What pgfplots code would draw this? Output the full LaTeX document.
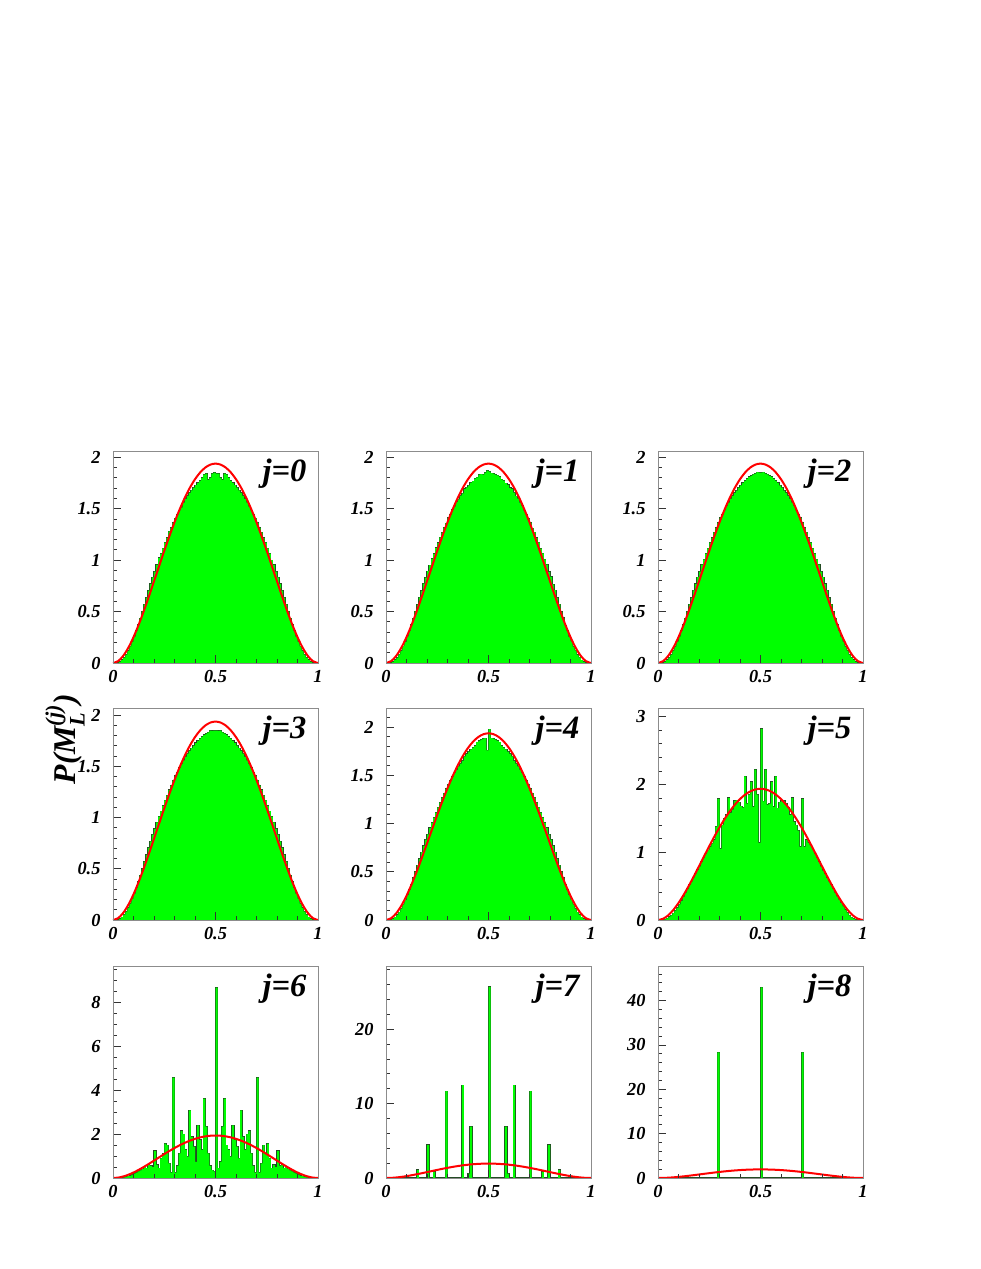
\documentclass[border=0pt]{standalone}
\usepackage{amsmath}
\usepackage{fontspec}
\setmainfont{Liberation Serif}
\usepackage{pgfplots}
\usepackage{pgfplotstable}
\pgfplotsset{compat=1.18}

\definecolor{histline}{RGB}{35,75,35}

% histograms, 100 bins on [0,1]; x = left edge of bin, last row closes the step
\pgfplotstableread{
x    j0    j1    j2    j3    j4    j5    j6    j7    j8
0.00 0     0     0     0     0     0     0     0     0
0.01 0     0     0     0     0     0     0     0     0
0.02 0.002 0.002 0.002 0.002 0.002 0.002 0     0     0
0.03 0.011 0.011 0.011 0.011 0.011 0.010 0     0     0
0.04 0.029 0.030 0.029 0.028 0.029 0.025 0     0     0
0.05 0.052 0.050 0.052 0.053 0.052 0.045 0.03  0     0
0.06 0.082 0.083 0.081 0.082 0.082 0.070 0.05  0     0
0.07 0.119 0.118 0.120 0.119 0.119 0.100 0.08  0     0
0.08 0.161 0.163 0.160 0.161 0.161 0.140 0.10  0     0
0.09 0.206 0.204 0.207 0.206 0.206 0.180 0.15  0     0
0.10 0.257 0.259 0.256 0.257 0.257 0.230 0.20  0     0
0.11 0.311 0.309 0.312 0.311 0.311 0.280 0.25  0     0
0.12 0.371 0.373 0.370 0.371 0.371 0.340 0.30  0     0
0.13 0.435 0.433 0.436 0.435 0.435 0.400 0.35  0     0
0.14 0.500 0.502 0.499 0.500 0.500 0.460 0.40  0     0
0.15 0.569 0.566 0.570 0.569 0.569 0.520 0.50  1.07  0
0.16 0.635 0.638 0.634 0.635 0.635 0.570 0.45  0     0
0.17 0.704 0.701 0.705 0.704 0.704 0.630 0.60  0     0
0.18 0.768 0.771 0.767 0.768 0.768 0.690 0.55  0     0
0.19 0.833 0.830 0.834 0.833 0.833 0.740 0.50  0     0
0.20 0.889 0.892 0.888 0.889 0.889 0.790 1.23  4.43  0
0.21 0.954 0.951 0.955 0.954 0.954 0.860 0.60  0     0
0.22 1.020 1.012 1.008 1.009 1.009 0.920 0.45  0     0
0.23 1.062 1.060 1.063 1.062 1.062 0.980 0.90  0.80  0
0.24 1.114 1.117 1.113 1.114 1.114 1.030 1.10  0     0
0.25 1.169 1.166 1.170 1.169 1.169 1.080 1.57  0     0
0.26 1.217 1.220 1.216 1.217 1.217 1.130 1.50  0     0
0.27 1.280 1.266 1.270 1.269 1.269 1.180 0.67  0     0
0.28 1.313 1.316 1.312 1.313 1.313 1.380 0.24  0     0
0.29 1.361 1.358 1.362 1.361 1.361 1.790 4.58  11.68 28.3
0.30 1.407 1.410 1.410 1.407 1.407 1.050 0.24  0     0
0.31 1.443 1.440 1.444 1.443 1.443 1.400 0.55  0     0
0.32 1.484 1.487 1.483 1.484 1.484 1.500 1.12  0     0
0.33 1.510 1.520 1.524 1.523 1.523 1.550 2.14  0     0
0.34 1.559 1.562 1.558 1.559 1.559 1.800 2.00  0     0
0.35 1.593 1.590 1.594 1.593 1.593 1.580 1.28  0     0
0.36 1.624 1.627 1.623 1.624 1.624 1.630 0.97  0     0
0.37 1.652 1.649 1.653 1.652 1.652 1.760 3.09  12.48 0
0.38 1.677 1.690 1.676 1.677 1.697 1.770 1.88  0     0
0.39 1.703 1.706 1.704 1.703 1.723 1.740 1.43  0     0
0.40 1.728 1.725 1.727 1.728 1.748 1.680 0.74  0.6   0
0.41 1.750 1.753 1.751 1.750 1.770 1.660 2.40  6.89  0
0.42 1.770 1.767 1.769 1.770 1.790 2.120 1.73  0     0
0.43 1.800 1.791 1.789 1.788 1.808 1.720 1.28  0     0
0.44 1.830 1.803 1.807 1.806 1.846 1.850 3.62  0     0
0.45 1.840 1.830 1.819 1.820 1.860 2.040 2.34  0     0
0.46 1.780 1.835 1.833 1.832 1.872 1.670 1.12  0     0
0.47 1.800 1.830 1.840 1.850 1.881 2.220 0.55  0     0
0.48 1.840 1.850 1.855 1.847 1.887 1.850 0.36  0     0
0.49 1.850 1.870 1.850 1.850 1.760 1.140 0.30  0     0
0.50 1.840 1.860 1.850 1.850 1.980 2.820 8.68  25.68 43.0
0.51 1.840 1.845 1.855 1.847 1.887 1.750 0.45  0     0
0.52 1.800 1.840 1.840 1.850 1.881 2.220 0.74  0     0
0.53 1.780 1.830 1.833 1.832 1.872 1.700 2.34  0     0
0.54 1.840 1.822 1.819 1.820 1.860 1.720 3.62  0     0
0.55 1.830 1.808 1.807 1.806 1.846 2.040 1.50  0     0
0.56 1.800 1.785 1.789 1.788 1.808 1.670 1.28  0     0
0.57 1.770 1.772 1.769 1.770 1.790 2.120 0.97  0     0
0.58 1.750 1.747 1.751 1.750 1.770 1.650 2.40  6.89  0
0.59 1.728 1.731 1.727 1.728 1.748 1.740 1.73  0.6   0
0.60 1.703 1.700 1.704 1.703 1.723 1.770 1.43  0     0
0.61 1.677 1.690 1.676 1.677 1.697 1.760 0.90  0     0
0.62 1.652 1.655 1.653 1.652 1.652 1.720 3.09  12.48 0
0.63 1.624 1.621 1.623 1.624 1.624 1.660 1.88  0     0
0.64 1.593 1.596 1.594 1.593 1.593 1.550 1.28  0     0
0.65 1.559 1.556 1.558 1.559 1.559 1.800 2.00  0     0
0.66 1.520 1.526 1.524 1.523 1.523 1.450 2.14  0     0
0.67 1.484 1.481 1.483 1.484 1.484 1.400 1.12  0     0
0.68 1.443 1.446 1.444 1.443 1.443 1.320 0.55  0     0
0.69 1.407 1.404 1.410 1.407 1.407 1.080 0.24  0     0
0.70 1.361 1.364 1.362 1.361 1.361 1.790 4.58  11.68 28.3
0.71 1.313 1.310 1.312 1.313 1.313 1.080 0.24  0     0
0.72 1.270 1.272 1.270 1.269 1.269 1.180 0.67  0     0
0.73 1.217 1.214 1.216 1.217 1.217 1.140 1.50  0     0
0.74 1.169 1.172 1.170 1.169 1.169 1.100 1.10  0     0
0.75 1.114 1.111 1.113 1.114 1.114 1.050 1.57  0     0
0.76 1.062 1.065 1.063 1.062 1.062 0.980 0.90  0.80  0
0.77 1.000 1.006 1.008 1.009 1.009 0.920 0.45  0     0
0.78 0.954 0.957 0.955 0.954 0.954 0.860 0.60  0     0
0.79 0.889 0.886 0.888 0.889 0.889 0.790 0.50  4.43  0
0.80 0.833 0.836 0.834 0.833 0.833 0.730 1.23  0     0
0.81 0.768 0.765 0.767 0.768 0.768 0.680 0.55  0     0
0.82 0.704 0.707 0.705 0.704 0.704 0.620 0.60  0     0
0.83 0.635 0.632 0.634 0.635 0.635 0.570 0.45  0     0
0.84 0.569 0.572 0.570 0.569 0.569 0.520 0.50  1.07  0
0.85 0.500 0.497 0.499 0.500 0.500 0.460 0.40  0     0
0.86 0.435 0.438 0.436 0.435 0.435 0.400 0.35  0     0
0.87 0.371 0.368 0.370 0.371 0.371 0.350 0.30  0     0
0.88 0.311 0.314 0.312 0.311 0.311 0.300 0.25  0     0
0.89 0.257 0.254 0.256 0.257 0.257 0.250 0.20  0     0
0.90 0.206 0.209 0.207 0.206 0.206 0.200 0.15  0     0
0.91 0.161 0.158 0.160 0.161 0.161 0.150 0.10  0     0
0.92 0.119 0.122 0.120 0.119 0.119 0.110 0.08  0     0
0.93 0.082 0.079 0.081 0.082 0.082 0.070 0.05  0     0
0.94 0.052 0.055 0.052 0.053 0.052 0.040 0.03  0     0
0.95 0.029 0.028 0.029 0.028 0.029 0.020 0     0     0
0.96 0.011 0.011 0.011 0.011 0.011 0.005 0     0     0
0.97 0.002 0.002 0.002 0.002 0.002 0     0     0     0
0.98 0     0     0     0     0     0     0     0     0
0.99 0     0     0     0     0     0     0     0     0
1.00 0     0     0     0     0     0     0     0     0
}\histdata

% red reference curve
\pgfplotstableread{
x     y
0.000 0
0.025 0.0184
0.050 0.0699
0.075 0.1492
0.100 0.2511
0.125 0.3709
0.150 0.5039
0.175 0.6462
0.200 0.7936
0.225 0.9426
0.250 1.0898
0.275 1.2323
0.300 1.3671
0.325 1.4919
0.350 1.6044
0.375 1.7029
0.400 1.7856
0.425 1.8513
0.450 1.8989
0.475 1.9278
0.500 1.9375
0.525 1.9278
0.550 1.8989
0.575 1.8513
0.600 1.7856
0.625 1.7029
0.650 1.6044
0.675 1.4919
0.700 1.3671
0.725 1.2323
0.750 1.0898
0.775 0.9426
0.800 0.7936
0.825 0.6462
0.850 0.5039
0.875 0.3709
0.900 0.2511
0.925 0.1492
0.950 0.0699
0.975 0.0184
1.000 0
}\fitdata

\pgfplotsset{
  panel/.style={
    scale only axis, width=123pt, height=127.2pt,
    anchor=south west,
    xmin=0, xmax=1, ymin=0,
    axis on top,
    axis line style={black!45, line width=0.5pt},
    tick pos=left, tick align=inside,
    xtick={0,0.5,1}, minor xtick={0.1,0.2,0.3,0.4,0.6,0.7,0.8,0.9},
    major tick length=5pt, minor tick length=2.6pt,
    tick style={black!80, line width=0.5pt},
    ticklabel style={font=\fontsize{11}{12}\selectfont\bfseries\itshape},
    /pgf/number format/assume math mode=true,
    yticklabel style={xshift=-4pt},
    xticklabel style={yshift=-1pt},
  },
  row12/.style={ytick={0,0.5,1,1.5,2},
    minor ytick={0.1,0.2,0.3,0.4,0.6,0.7,0.8,0.9,1.1,1.2,1.3,1.4,1.6,1.7,1.8,1.9,2.1}},
}

% outline first, green fill over it, then the red curve
\newcommand{\hist}[2]{%
  \addplot[const plot mark left, draw=histline, line width=0.7pt]
    table[x=x,y=#1]{\histdata};
  \addplot[const plot mark left, fill=green, draw=none]
    table[x=x,y=#1]{\histdata} \closedcycle;
  \addplot[red, line width=1.2pt, smooth] table[x=x,y=y]{\fitdata};
  \node[anchor=base east, inner sep=0pt, font=\fontsize{19.5}{21}\selectfont\bfseries\itshape]
    at (rel axis cs:0.945,0.855) {#2};
}

\begin{document}
\begin{tikzpicture}
\path[use as bounding box] (0pt,0pt) rectangle (588.6pt,761.4pt);

% row 1
\begin{axis}[panel, row12, at={(67.8pt,363.6pt)}, ymax=2.06]
\hist{j0}{j=0}
\end{axis}
\begin{axis}[panel, row12, at={(231.6pt,363.6pt)}, ymax=2.06]
\hist{j1}{j=1}
\end{axis}
\begin{axis}[panel, row12, at={(394.8pt,363.6pt)}, ymax=2.06]
\hist{j2}{j=2}
\end{axis}

% row 2
\begin{axis}[panel, row12, at={(67.8pt,209.4pt)}, ymax=2.07]
\hist{j3}{j=3}
\end{axis}
\begin{axis}[panel, row12, at={(231.6pt,209.4pt)}, ymax=2.2]
\hist{j4}{j=4}
\end{axis}
\begin{axis}[panel, at={(394.8pt,209.4pt)}, ymax=3.13,
  ytick={0,1,2,3},
  minor ytick={0.2,0.4,0.6,0.8,1.2,1.4,1.6,1.8,2.2,2.4,2.6,2.8}]
\hist{j5}{j=5}
\end{axis}

% row 3
\begin{axis}[panel, at={(67.8pt,54.6pt)}, ymax=9.67,
  ytick={0,2,4,6,8},
  minor ytick={0.5,1,1.5,2.5,3,3.5,4.5,5,5.5,6.5,7,7.5,8.5,9,9.5}]
\hist{j6}{j=6}
\end{axis}
\begin{axis}[panel, at={(231.6pt,54.6pt)}, ymax=28.5,
  ytick={0,10,20},
  minor ytick={2,4,6,8,12,14,16,18,22,24,26,28}]
\hist{j7}{j=7}
\end{axis}
\begin{axis}[panel, at={(394.8pt,54.6pt)}, ymax=47.8,
  ytick={0,10,20,30,40},
  minor ytick={2,4,6,8,12,14,16,18,22,24,26,28,32,34,36,38,42,44,46}]
\hist{j8}{j=8}
\end{axis}

\node[rotate=90, font=\fontsize{19}{20}\selectfont\bfseries\itshape]
  at (39pt,318pt) {P(M$_{\text{L}}^{\text{(j)}}$)};
\end{tikzpicture}
\end{document}
